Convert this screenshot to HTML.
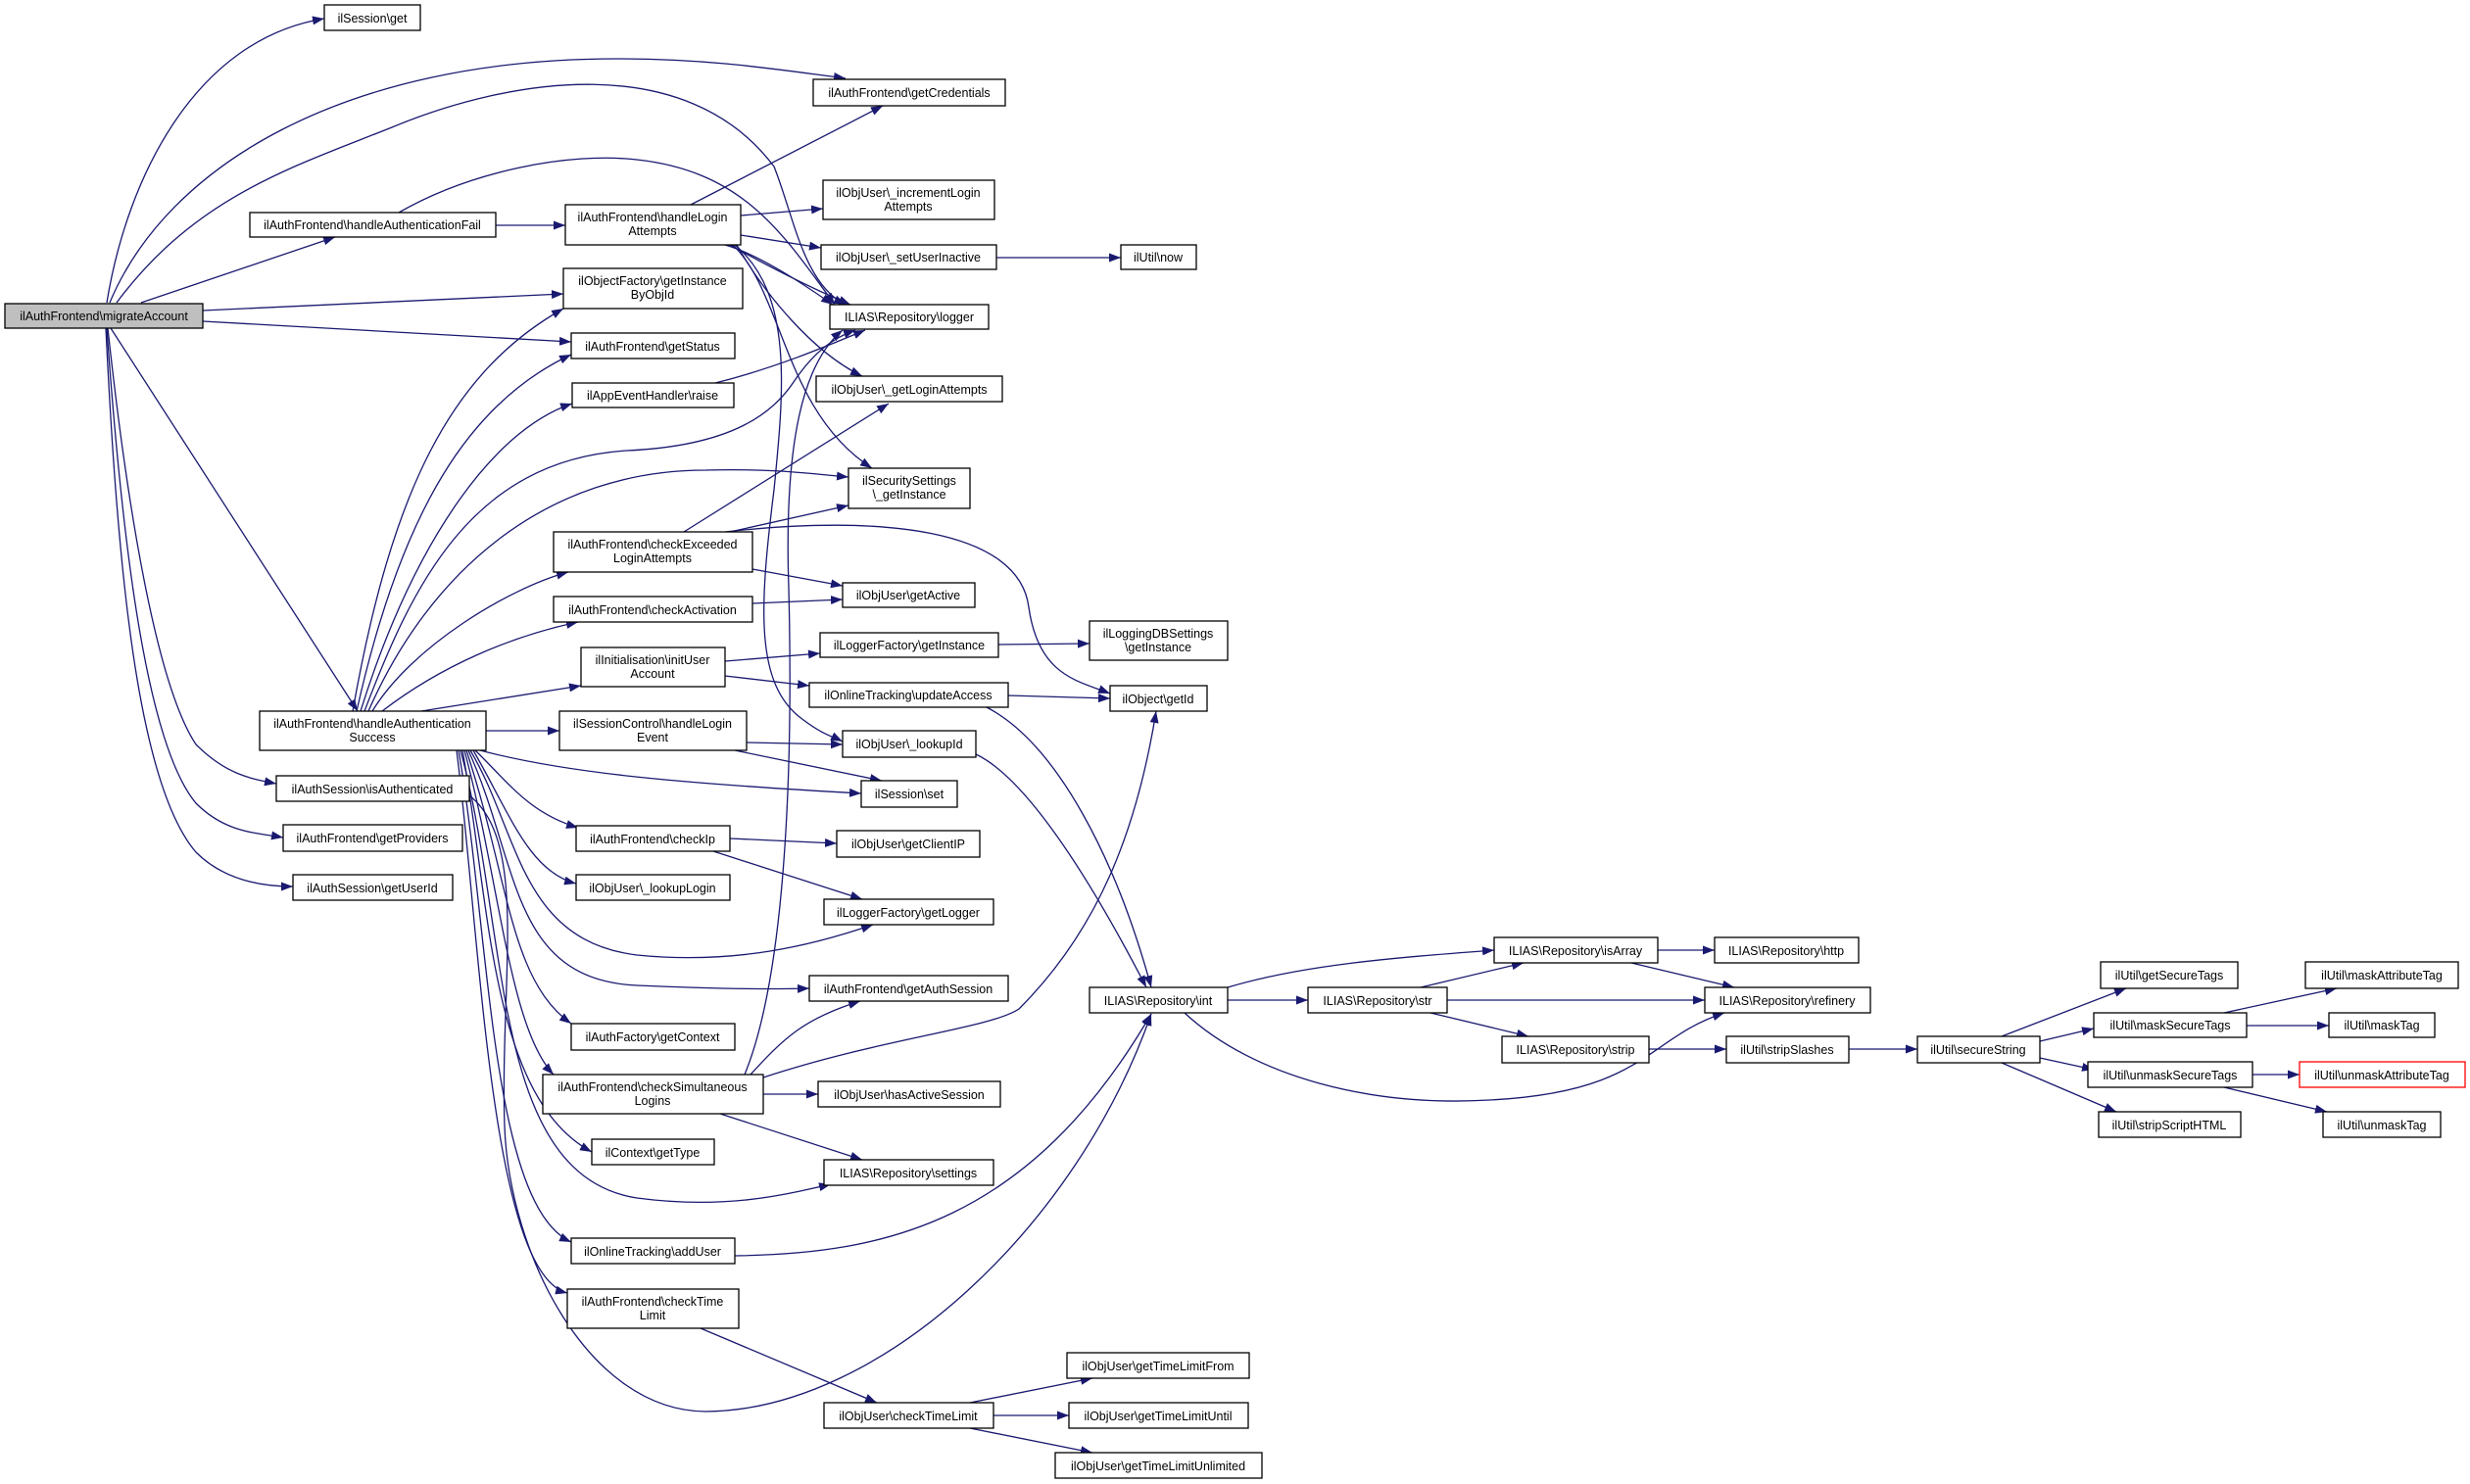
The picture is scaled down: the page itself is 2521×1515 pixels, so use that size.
<!DOCTYPE html>
<html><head><meta charset="utf-8"><style>html,body{margin:0;padding:0;background:#fff}svg{display:block}text{font-family:"Liberation Sans",Arial,sans-serif;font-size:12.5px;fill:#000;text-anchor:middle}</style></head><body>
<svg width="2521" height="1515" viewBox="0 0 2521 1515" xmlns="http://www.w3.org/2000/svg">
<defs><marker id="a" markerUnits="userSpaceOnUse" markerWidth="13" markerHeight="9" refX="12" refY="4.5" orient="auto"><path d="M0,0 L12,4.5 L0,9 z" fill="#191970"/></marker></defs>
<g fill="none" stroke="#191970" stroke-width="1.3" marker-end="url(#a)">
<path d="M109,309 C130,180 200,40 331,19"/>
<path d="M112,309 C170,170 350,60 630,60 C730,60 800,72 863,80"/>
<path d="M119,309 C200,200 300,170 400,130 C520,80 700,50 790,170 C810,220 820,290 863,311"/>
<path d="M144,309 L342,242"/>
<path d="M207,317 L575,300"/>
<path d="M207,328 L583,349"/>
<path d="M113,335 L365,726"/>
<path d="M110,335 C130,520 160,700 200,760 C230,790 255,795 282,800"/>
<path d="M109,335 C125,560 150,760 200,820 C230,850 260,850 289,855"/>
<path d="M108,335 C120,580 140,800 200,870 C230,900 270,905 299,905"/>
<path d="M506,230 L577,230"/>
<path d="M407,217 C480,175 580,155 650,163 C760,175 800,240 852,311"/>
<path d="M705,209 L901,108"/>
<path d="M756,220 L840,213"/>
<path d="M756,240 L838,253"/>
<path d="M745,250 C790,275 830,295 868,311"/>
<path d="M740,250 C775,260 820,290 850,311"/>
<path d="M752,250 C780,300 830,360 880,384"/>
<path d="M748,250 C800,300 800,420 890,478"/>
<path d="M750,250 C810,300 800,400 790,500 C775,620 770,700 820,735 C840,750 850,752 860,757"/>
<path d="M1017,263 L1144,263"/>
<path d="M730,391 C790,376 840,355 883,337"/>
<path d="M360,726 C400,500 460,380 575,315"/>
<path d="M364,726 C410,520 480,410 583,362"/>
<path d="M368,726 C420,560 500,440 584,412"/>
<path d="M372,726 C420,600 480,470 640,460 C750,455 790,420 810,390 C830,360 850,345 873,337"/>
<path d="M376,726 C440,580 560,480 720,480 C790,478 830,484 866,487"/>
<path d="M380,726 C420,660 520,600 580,584"/>
<path d="M390,726 C450,680 520,650 590,635"/>
<path d="M430,726 L593,700"/>
<path d="M496,746 L571,746"/>
<path d="M490,766 C580,790 700,800 879,810"/>
<path d="M762,758 L860,760"/>
<path d="M750,766 L900,797"/>
<path d="M485,766 C520,800 540,830 590,845"/>
<path d="M483,766 C520,830 540,890 588,902"/>
<path d="M480,766 C530,850 530,960 650,975 C750,985 830,965 891,944"/>
<path d="M478,766 C530,880 520,1000 650,1006 C740,1010 790,1010 826,1009"/>
<path d="M476,766 C520,900 520,1000 583,1045"/>
<path d="M474,766 C510,900 520,1050 565,1097"/>
<path d="M472,766 C500,920 500,1120 604,1176"/>
<path d="M470,766 C520,950 500,1200 650,1223 C740,1235 800,1220 848,1209"/>
<path d="M468,766 C500,950 500,1230 583,1268"/>
<path d="M466,766 C490,950 500,1300 579,1320"/>
<path d="M479,812 C540,860 510,1000 515,1150 C520,1280 600,1440 720,1441 C900,1440 1100,1250 1175,1035"/>
<path d="M698,543 L907,412"/>
<path d="M745,543 L866,516"/>
<path d="M768,581 L860,598"/>
<path d="M740,543 C900,525 1040,540 1050,620 C1060,690 1100,695 1133,708"/>
<path d="M768,616 L860,612"/>
<path d="M740,675 L837,667"/>
<path d="M740,690 L826,700"/>
<path d="M1019,658 L1112,657"/>
<path d="M1029,710 L1133,713"/>
<path d="M1007,722 C1080,760 1140,880 1175,1008"/>
<path d="M996,770 C1060,800 1140,950 1170,1008"/>
<path d="M745,856 L854,861"/>
<path d="M728,869 L880,918"/>
<path d="M766,1097 C800,1060 820,1040 878,1022"/>
<path d="M760,1097 C800,1000 810,800 805,600 C800,450 820,370 860,337"/>
<path d="M779,1100 C900,1060 1010,1050 1040,1030 C1120,950 1160,850 1180,726"/>
<path d="M779,1117 L835,1117"/>
<path d="M735,1137 L880,1184"/>
<path d="M750,1282 C900,1280 1050,1250 1175,1035"/>
<path d="M715,1356 L895,1432"/>
<path d="M990,1432 L1115,1407"/>
<path d="M1014,1445 L1091,1445"/>
<path d="M990,1458 L1115,1483"/>
<path d="M1253,1008 C1330,985 1420,978 1525,970"/>
<path d="M1253,1021 L1335,1021"/>
<path d="M1209,1034 C1280,1100 1400,1130 1520,1123 C1680,1115 1680,1060 1760,1034"/>
<path d="M1450,1008 L1555,983"/>
<path d="M1477,1021 L1740,1021"/>
<path d="M1460,1034 L1560,1058"/>
<path d="M1692,970 L1750,970"/>
<path d="M1665,983 L1770,1008"/>
<path d="M1683,1071 L1762,1071"/>
<path d="M1887,1071 L1957,1071"/>
<path d="M2043,1058 L2170,1009"/>
<path d="M2082,1063 L2137,1050"/>
<path d="M2082,1080 L2137,1092"/>
<path d="M2043,1085 L2160,1135"/>
<path d="M2270,1034 L2385,1009"/>
<path d="M2293,1047 L2377,1047"/>
<path d="M2299,1097 L2347,1097"/>
<path d="M2270,1110 L2375,1135"/>
</g>
<g stroke="#000" stroke-width="1.3" fill="#fff">
<rect x="5" y="310" width="202" height="25" fill="#bfbfbf"/>
<rect x="331" y="5" width="98" height="26"/>
<rect x="830" y="81" width="196" height="27"/>
<rect x="255" y="217" width="251" height="25"/>
<rect x="577" y="209" width="179" height="41"/>
<rect x="840" y="184" width="175" height="40"/>
<rect x="838" y="250" width="179" height="25"/>
<rect x="1144" y="250" width="77" height="25"/>
<rect x="847" y="311" width="162" height="25"/>
<rect x="575" y="274" width="183" height="41"/>
<rect x="583" y="340" width="167" height="26"/>
<rect x="584" y="391" width="165" height="25"/>
<rect x="833" y="384" width="190" height="26"/>
<rect x="866" y="478" width="124" height="41"/>
<rect x="565" y="543" width="203" height="41"/>
<rect x="860" y="595" width="135" height="25"/>
<rect x="565" y="609" width="203" height="26"/>
<rect x="837" y="646" width="182" height="25"/>
<rect x="1112" y="634" width="141" height="40"/>
<rect x="593" y="661" width="147" height="40"/>
<rect x="826" y="697" width="203" height="25"/>
<rect x="1133" y="700" width="99" height="26"/>
<rect x="265" y="726" width="231" height="40"/>
<rect x="571" y="726" width="191" height="40"/>
<rect x="860" y="746" width="136" height="27"/>
<rect x="879" y="797" width="98" height="27"/>
<rect x="282" y="792" width="197" height="26"/>
<rect x="588" y="843" width="157" height="26"/>
<rect x="854" y="848" width="146" height="27"/>
<rect x="289" y="842" width="183" height="27"/>
<rect x="299" y="893" width="163" height="26"/>
<rect x="588" y="893" width="157" height="26"/>
<rect x="841" y="918" width="173" height="26"/>
<rect x="826" y="996" width="203" height="26"/>
<rect x="583" y="1045" width="167" height="27"/>
<rect x="1112" y="1008" width="141" height="26"/>
<rect x="554" y="1097" width="225" height="40"/>
<rect x="835" y="1104" width="186" height="26"/>
<rect x="604" y="1163" width="125" height="26"/>
<rect x="841" y="1184" width="173" height="26"/>
<rect x="583" y="1264" width="167" height="26"/>
<rect x="579" y="1316" width="175" height="40"/>
<rect x="841" y="1432" width="173" height="26"/>
<rect x="1089" y="1381" width="186" height="26"/>
<rect x="1091" y="1432" width="183" height="26"/>
<rect x="1077" y="1483" width="211" height="26"/>
<rect x="1335" y="1008" width="142" height="26"/>
<rect x="1525" y="957" width="167" height="26"/>
<rect x="1750" y="957" width="147" height="26"/>
<rect x="1740" y="1008" width="169" height="26"/>
<rect x="1533" y="1058" width="150" height="27"/>
<rect x="1762" y="1058" width="125" height="27"/>
<rect x="1957" y="1058" width="125" height="27"/>
<rect x="2144" y="982" width="140" height="27"/>
<rect x="2137" y="1034" width="156" height="25"/>
<rect x="2353" y="982" width="156" height="27"/>
<rect x="2377" y="1034" width="108" height="25"/>
<rect x="2131" y="1084" width="168" height="26"/>
<rect x="2347" y="1084" width="169" height="26" stroke="#ff0000"/>
<rect x="2142" y="1135" width="145" height="26"/>
<rect x="2371" y="1135" width="120" height="26"/>
</g>
<g>
<text x="106" y="327">ilAuthFrontend\migrateAccount</text>
<text x="380" y="23">ilSession\get</text>
<text x="928" y="99">ilAuthFrontend\getCredentials</text>
<text x="380" y="234">ilAuthFrontend\handleAuthenticationFail</text>
<text x="666" y="226">ilAuthFrontend\handleLogin</text><text x="666" y="240">Attempts</text>
<text x="927" y="201">ilObjUser\_incrementLogin</text><text x="927" y="215">Attempts</text>
<text x="927" y="267">ilObjUser\_setUserInactive</text>
<text x="1182" y="267">ilUtil\now</text>
<text x="928" y="328">ILIAS\Repository\logger</text>
<text x="666" y="291">ilObjectFactory\getInstance</text><text x="666" y="305">ByObjId</text>
<text x="666" y="358">ilAuthFrontend\getStatus</text>
<text x="666" y="408">ilAppEventHandler\raise</text>
<text x="928" y="402">ilObjUser\_getLoginAttempts</text>
<text x="928" y="495">ilSecuritySettings</text><text x="928" y="509">\_getInstance</text>
<text x="666" y="560">ilAuthFrontend\checkExceeded</text><text x="666" y="574">LoginAttempts</text>
<text x="927" y="612">ilObjUser\getActive</text>
<text x="666" y="627">ilAuthFrontend\checkActivation</text>
<text x="928" y="663">ilLoggerFactory\getInstance</text>
<text x="1182" y="651">ilLoggingDBSettings</text><text x="1182" y="665">\getInstance</text>
<text x="666" y="678">ilInitialisation\initUser</text><text x="666" y="692">Account</text>
<text x="927" y="714">ilOnlineTracking\updateAccess</text>
<text x="1182" y="718">ilObject\getId</text>
<text x="380" y="743">ilAuthFrontend\handleAuthentication</text><text x="380" y="757">Success</text>
<text x="666" y="743">ilSessionControl\handleLogin</text><text x="666" y="757">Event</text>
<text x="928" y="764">ilObjUser\_lookupId</text>
<text x="928" y="815">ilSession\set</text>
<text x="380" y="810">ilAuthSession\isAuthenticated</text>
<text x="666" y="861">ilAuthFrontend\checkIp</text>
<text x="927" y="866">ilObjUser\getClientIP</text>
<text x="380" y="860">ilAuthFrontend\getProviders</text>
<text x="380" y="911">ilAuthSession\getUserId</text>
<text x="666" y="911">ilObjUser\_lookupLogin</text>
<text x="927" y="936">ilLoggerFactory\getLogger</text>
<text x="927" y="1014">ilAuthFrontend\getAuthSession</text>
<text x="666" y="1063">ilAuthFactory\getContext</text>
<text x="1182" y="1026">ILIAS\Repository\int</text>
<text x="666" y="1114">ilAuthFrontend\checkSimultaneous</text><text x="666" y="1128">Logins</text>
<text x="928" y="1122">ilObjUser\hasActiveSession</text>
<text x="666" y="1181">ilContext\getType</text>
<text x="927" y="1202">ILIAS\Repository\settings</text>
<text x="666" y="1282">ilOnlineTracking\addUser</text>
<text x="666" y="1333">ilAuthFrontend\checkTime</text><text x="666" y="1347">Limit</text>
<text x="927" y="1450">ilObjUser\checkTimeLimit</text>
<text x="1182" y="1399">ilObjUser\getTimeLimitFrom</text>
<text x="1182" y="1450">ilObjUser\getTimeLimitUntil</text>
<text x="1182" y="1501">ilObjUser\getTimeLimitUnlimited</text>
<text x="1406" y="1026">ILIAS\Repository\str</text>
<text x="1608" y="975">ILIAS\Repository\isArray</text>
<text x="1823" y="975">ILIAS\Repository\http</text>
<text x="1824" y="1026">ILIAS\Repository\refinery</text>
<text x="1608" y="1076">ILIAS\Repository\strip</text>
<text x="1824" y="1076">ilUtil\stripSlashes</text>
<text x="2019" y="1076">ilUtil\secureString</text>
<text x="2214" y="1000">ilUtil\getSecureTags</text>
<text x="2215" y="1051">ilUtil\maskSecureTags</text>
<text x="2431" y="1000">ilUtil\maskAttributeTag</text>
<text x="2431" y="1051">ilUtil\maskTag</text>
<text x="2215" y="1102">ilUtil\unmaskSecureTags</text>
<text x="2431" y="1102">ilUtil\unmaskAttributeTag</text>
<text x="2214" y="1153">ilUtil\stripScriptHTML</text>
<text x="2431" y="1153">ilUtil\unmaskTag</text>
</g>
</svg>
</body></html>
